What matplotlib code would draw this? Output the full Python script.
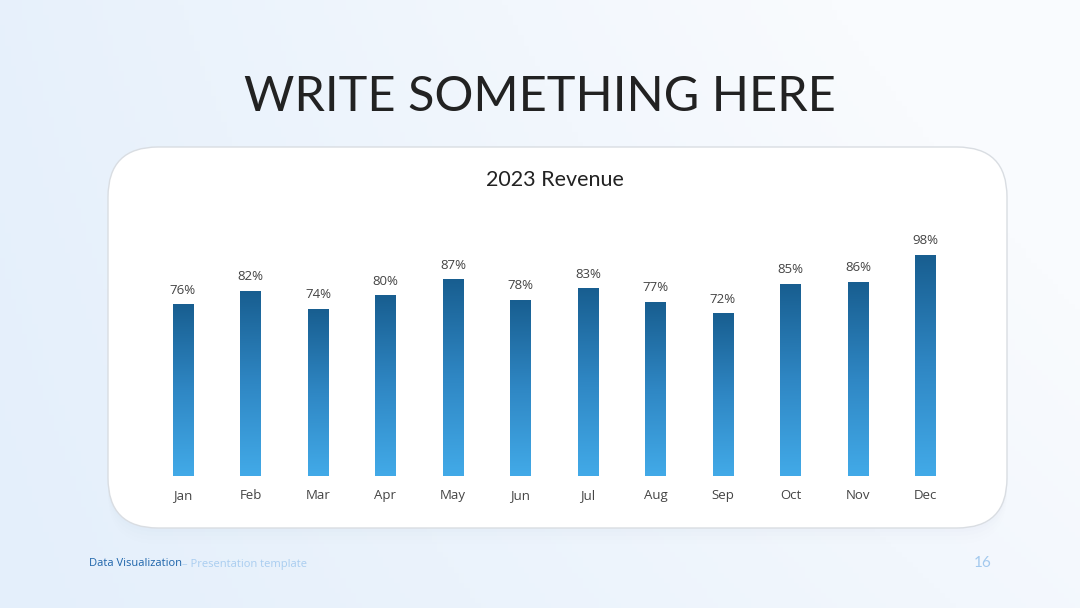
import numpy as np
import matplotlib
matplotlib.use("Agg")
import matplotlib.pyplot as plt
from matplotlib.patches import FancyBboxPatch
from matplotlib.colors import LinearSegmentedColormap

months = ["Jan", "Feb", "Mar", "Apr", "May", "Jun", "Jul", "Aug", "Sep", "Oct", "Nov", "Dec"]
revenue = [76, 82, 74, 80, 87, 78, 83, 77, 72, 85, 86, 98]

W, H = 1080, 608
fig = plt.figure(figsize=(W / 100, H / 100), dpi=100)

# background layer in pixel units
bg = fig.add_axes([0, 0, 1, 1])
bg.set_xlim(0, W)
bg.set_ylim(H, 0)
bg.axis("off")
gx = np.linspace(0, 1, 200)
gy = np.linspace(0, 1, 120)
GX, GY = np.meshgrid(gx, gy)
t = np.clip(0.75 * GX + 0.35 * (1 - GY) * GX + 0.15 * (1 - GY), 0, 1)
bg_cmap = LinearSegmentedColormap.from_list("bg", ["#e4effb", "#f9fbfe"])
bg.imshow(t, cmap=bg_cmap, extent=(0, W, H, 0), aspect="auto", zorder=0)

# card with soft shadow
for i, a in enumerate([0.02, 0.015, 0.01, 0.008]):
    off = 4 + i * 4
    sh = FancyBboxPatch((108 + 50, 147 + 50 + off), 899 - 100, 381 - 100,
                        boxstyle="round,pad=50", facecolor="#9fb4cc", alpha=a,
                        edgecolor="none", zorder=1)
    bg.add_patch(sh)
card = FancyBboxPatch((108 + 50, 147 + 50), 899 - 100, 381 - 100,
                      boxstyle="round,pad=50", facecolor="white",
                      edgecolor="#d9dde2", linewidth=1.0, zorder=2)
bg.add_patch(card)

bg.text(540, 97, "WRITE SOMETHING HERE", ha="center", va="center",
        fontsize=35, color="#222222", family="Lato", zorder=3)
bg.text(555, 180, "2023 Revenue", ha="center", va="center",
        fontsize=15.5, color="#222222", family="Lato", zorder=3)

# footer
t1 = bg.text(89, 564, "Data Visualization", ha="left", va="center",
             fontsize=8, color="#1d64aa", family="Open Sans", zorder=3)
fig.canvas.draw()
bb = t1.get_window_extent()
bg.text(bb.x1, 564, "– Presentation template", ha="left", va="center",
        fontsize=8, color="#a9cdf0", family="Open Sans", zorder=3)
bg.text(983, 563, "16", ha="center", va="center",
        fontsize=11, color="#a3c9ee", family="Lato", zorder=3)

# bar chart axes
px_per_pct = 2.255
y0 = 476
top = y0 - 110 * px_per_pct
ax = fig.add_axes([149.25 / W, (H - y0) / H, 810 / W, (y0 - top) / H])
ax.set_xlim(-0.5, 11.5)
ax.set_ylim(0, 110)
ax.axis("off")
ax.patch.set_alpha(0)

bar_cmap = LinearSegmentedColormap.from_list("bar", ["#42aae8", "#2f87c4", "#185e90"])
bw = 0.31
grad = np.linspace(0, 1, 256).reshape(-1, 1)
for i, v in enumerate(revenue):
    ax.imshow(grad, cmap=bar_cmap, origin="lower", aspect="auto",
              extent=(i - bw / 2, i + bw / 2, 0, v), zorder=3)
    ax.text(i, v + 3.5, f"{v}%", ha="center", va="bottom", fontsize=9.5,
            color="#444444", family="Open Sans", zorder=4)
    ax.text(i, -8.5, months[i], ha="center", va="center", fontsize=9.5,
            color="#444444", family="Open Sans", clip_on=False, zorder=4)
ax.set_xlim(-0.5, 11.5)
ax.set_ylim(0, 110)

fig.savefig("out.png", dpi=100)
